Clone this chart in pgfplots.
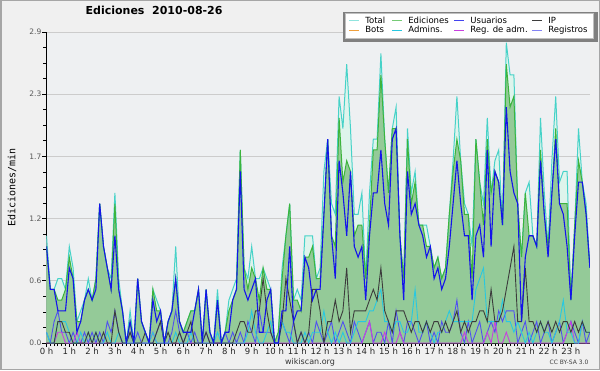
\documentclass[border=0pt]{standalone}
\usepackage{pgfplots}
\pgfplotsset{compat=1.18}
\usepackage{pgfplotstable}
\usepackage{fontspec}
\setmainfont{DejaVu Sans}
\newfontfamily\monofont{DejaVu Sans Mono}
\definecolor{totc}{RGB}{70,210,200}
\definecolor{totfill}{RGB}{222,244,236}
\definecolor{edc}{RGB}{60,180,60}
\definecolor{edfill}{RGB}{148,202,152}
\definecolor{usc}{RGB}{20,20,235}
\definecolor{ipc}{RGB}{60,60,60}
\definecolor{botc}{RGB}{240,160,60}
\definecolor{admc}{RGB}{40,200,225}
\definecolor{regadmc}{RGB}{200,64,224}
\definecolor{regc}{RGB}{80,80,240}
\definecolor{plotbg}{RGB}{238,240,242}
\definecolor{outerbg}{RGB}{240,240,240}

\pgfplotstableread{
i T E U I A R M
0 1.0 0.9 0.9 0 0.1 0.1 0
1 0.5 0.5 0.5 0 0 0 0
2 0.5 0.5 0.5 0 0 0.2 0
3 0.6 0.4 0.3 0.2 0.2 0.3 0.1
4 0.6 0.4 0.3 0.2 0.2 0.1 0.1
5 0.5 0.5 0.3 0.1 0.2 0.1 0
6 0.9 0.8 0.7 0.1 0.1 0 0
7 0.7 0.6 0.6 0 0 0.1 0
8 0.2 0.2 0.1 0 0 0 0.1
9 0.3 0.2 0.2 0 0.1 0 0
10 0.4 0.4 0.4 0 0 0.1 0
11 0.6 0.5 0.5 0.1 0.1 0 0
12 0.4 0.4 0.4 0 0 0.1 0
13 0.6 0.6 0.5 0.1 0.1 0 0
14 1.3 1.3 1.3 0 0 0.1 0
15 0.9 0.9 0.9 0.1 0 0 0
16 0.7 0.7 0.7 0 0.1 0.2 0
17 0.6 0.5 0.5 0 0 0.1 0
18 1.4 1.3 1.0 0.3 0 0.3 0
19 0.6 0.5 0.5 0.1 0.1 0.1 0
20 0.3 0.3 0.3 0 0 0 0
21 0.0 0.0 0.0 0 0 0 0
22 0.3 0.2 0.2 0.1 0 0.1 0
23 0.0 0.0 0.0 0 0 0 0
24 0.6 0.6 0.6 0 0 0.1 0
25 0.2 0.2 0.2 0 0 0 0
26 0.1 0.1 0.1 0.1 0 0 0
27 0.0 0.0 0.0 0 0 0 0
28 0.5 0.5 0.4 0 0.1 0 0.1
29 0.4 0.3 0.2 0.1 0 0.1 0
30 0.3 0.3 0.3 0.2 0 0.2 0
31 0.0 0.0 0.0 0 0 0 0
32 0.2 0.2 0.2 0.1 0 0 0
33 0.3 0.3 0.3 0 0 0.1 0
34 0.9 0.6 0.6 0 0.1 0.3 0
35 0.2 0.2 0.2 0.1 0 0.1 0
36 0.1 0.1 0.1 0 0 0 0
37 0.2 0.2 0.1 0.1 0 0.1 0
38 0.3 0.3 0.1 0.2 0.1 0 0
39 0.3 0.3 0.3 0 0 0.1 0
40 0.5 0.5 0.5 0 0 0 0
41 0.0 0.0 0.0 0 0 0 0
42 0.5 0.5 0.5 0.1 0 0.1 0
43 0.1 0.1 0.1 0 0 0 0
44 0.0 0.0 0.0 0 0 0 0
45 0.5 0.4 0.4 0 0.1 0 0
46 0.0 0.0 0.0 0 0 0 0
47 0.1 0.1 0.1 0 0 0.1 0
48 0.4 0.3 0.1 0 0 0 0
49 0.5 0.4 0.4 0 0 0.1 0
50 0.6 0.5 0.5 0.1 0 0 0
51 1.8 1.8 1.6 0.2 0 0.1 0
52 0.7 0.7 0.5 0.2 0 0 0
53 0.6 0.5 0.4 0.1 0.1 0.2 0
54 0.9 0.7 0.5 0.1 0.3 0.1 0
55 0.6 0.6 0.6 0.3 0.1 0 0
56 0.6 0.4 0.1 0.3 0 0.3 0
57 0.7 0.7 0.1 0.6 0 0.1 0
58 0.6 0.5 0.4 0.3 0.1 0.1 0
59 0.5 0.5 0.5 0.1 0.2 0.1 0
60 0.0 0.0 0.0 0 0 0 0
61 0.1 0.1 0.0 0 0 0 0
62 0.7 0.6 0.3 0.2 0.2 0.2 0
63 1.0 1.0 0.3 0.6 0.1 0.1 0
64 1.3 1.3 0.9 0.4 0.1 0 0
65 0.4 0.4 0.2 0.2 0 0.2 0
66 0.5 0.4 0.3 0 0 0 0
67 0.4 0.3 0.3 0.1 0 0.1 0
68 1.0 0.8 0.8 0 0.1 0 0
69 1.0 0.8 0.7 0.1 0 0.1 0
70 1.0 0.9 0.4 0.5 0.1 0 0
71 0.6 0.6 0.5 0.5 0.1 0.2 0
72 0.7 0.6 0.5 0.3 0.1 0.1 0
73 1.6 1.2 1.2 0 0.3 0 0
74 1.9 1.9 1.9 0.2 0.1 0.1 0
75 1.3 1.0 1.0 0.2 0 0.2 0
76 1.2 0.9 0.6 0.4 0.1 0 0
77 2.3 2.1 1.7 0.2 0 0.1 0
78 2.0 1.5 1.4 0.3 0.1 0.2 0
79 2.6 1.7 1.0 0.7 0 0.1 0
80 2.0 1.6 1.6 0.1 0 0 0
81 1.2 1.0 0.9 0.3 0.1 0.2 0
82 1.2 1.1 0.8 0.3 0.2 0.1 0
83 1.4 1.1 0.9 0.3 0.2 0 0
84 0.6 0.6 0.4 0.3 0.2 0.1 0.1
85 1.4 1.1 1.0 0.4 0.3 0.2 0.2
86 1.9 1.8 1.4 0.5 0.3 0 0
87 1.9 1.8 1.4 0.4 0.4 0.1 0
88 2.7 2.5 1.8 0.7 0.5 0.1 0
89 1.9 1.9 1.3 0.3 0.2 0 0.1
90 1.4 1.4 1.1 0.2 0.2 0.2 0
91 2.0 2.0 1.9 0.1 0.1 0 0
92 2.2 2.0 2.0 0.3 0.2 0.3 0
93 1.0 1.0 1.0 0.3 0.2 0.1 0.1
94 0.6 0.6 0.4 0.3 0.1 0 0
95 2.0 1.9 1.6 0.2 0.1 0.2 0
96 1.4 1.3 1.2 0.1 0.2 0.2 0
97 1.6 1.5 1.3 0.2 0.5 0.1 0
98 1.1 1.1 1.1 0.2 0.1 0 0
99 1.1 1.1 1.0 0.1 0.1 0.1 0
100 1.1 0.9 0.8 0.2 0.2 0.2 0
101 0.9 0.9 0.9 0.1 0.1 0 0
102 0.7 0.7 0.6 0.2 0 0.1 0
103 0.8 0.8 0.7 0.2 0.1 0 0
104 0.6 0.6 0.5 0.1 0.1 0.2 0
105 0.7 0.7 0.6 0.2 0.2 0.1 0
106 1.2 1.2 0.9 0.1 0.3 0.1 0
107 1.7 1.6 1.3 0.2 0.2 0.2 0
108 2.3 1.9 1.7 0.3 0.2 0.4 0
109 1.7 1.7 1.3 0.1 0.2 0.1 0
110 1.3 1.2 1.0 0.2 0.2 0 0.1
111 1.2 1.2 1.0 0.1 0.2 0.2 0
112 0.9 0.6 0.4 0.2 0.2 0 0
113 1.9 1.9 1.0 0.2 0.5 0.1 0
114 1.5 1.5 1.1 0.3 0.6 0.2 0
115 1.3 1.1 0.8 0.3 0.7 0 0
116 2.1 1.9 1.8 0.2 0.2 0.1 0.1
117 1.4 1.4 0.9 0.5 0.2 0.2 0
118 1.7 1.6 1.6 0.2 0.2 0.1 0.2
119 1.8 1.5 1.5 0.2 0.2 0.3 0
120 1.1 1.1 1.1 0.3 0.4 0.2 0
121 2.8 2.6 2.2 0.5 0.2 0.3 0.1
122 2.5 2.2 1.6 0.7 0.2 0.3 0
123 2.5 2.3 1.4 0.9 0.1 0.3 0
124 1.3 1.3 1.3 0.2 0.2 0 0
125 0.8 0.8 0.2 0.2 0.1 0.1 0
126 1.4 1.4 0.8 0.7 0 0.2 0
127 1.5 1.0 1.0 0.2 0.1 0 0
128 1.0 1.0 1.0 0.2 0 0.1 0
129 0.9 0.9 0.9 0.1 0.1 0.2 0
130 2.1 1.8 1.7 0.2 0.2 0 0
131 1.4 1.2 1.2 0.1 0.1 0.1 0
132 0.9 0.9 0.8 0.2 0.1 0.2 0
133 1.7 1.4 1.4 0.1 0 0 0
134 2.3 2.0 1.9 0.2 0.1 0.1 0
135 1.5 1.3 1.3 0.1 0.2 0.2 0
136 1.6 1.3 1.2 0.2 0.4 0 0
137 1.6 1.3 0.9 0.2 0.1 0.1 0.1
138 0.4 0.4 0.4 0.1 0.1 0.2 0.2
139 1.1 1.1 1.0 0.2 0 0.1 0
140 2.0 1.7 1.5 0.1 0 0 0
141 1.5 1.5 1.5 0.2 0.2 0.2 0
142 1.3 1.2 1.2 0.1 0.1 0 0
143 0.7 0.7 0.7 0.1 0.1 0.1 0
}\data

\begin{document}
\begin{tikzpicture}
\path[use as bounding box] (0,0) rectangle (600pt,370pt);
\fill[outerbg] (0,0) rectangle (600pt,370pt);
\draw[black!35, line width=1.5pt] (0.75pt,0.75pt) rectangle (599.25pt,369.25pt);
\begin{axis}[
  at={(46.5pt,27pt)}, anchor=south west, scale only axis,
  width=543.4pt, height=311pt,
  xmin=0, xmax=143, ymin=0, ymax=2.9,
  axis x line*=bottom, axis y line*=left,
  axis line style={black, line width=1.2pt},
  axis background/.style={fill=plotbg},
  clip mode=individual,
  xtick={0,6,...,138},
  xticklabels={0 h,1 h,2 h,3 h,4 h,5 h,6 h,7 h,8 h,9 h,10 h,11 h,12 h,13 h,14 h,15 h,16 h,17 h,18 h,19 h,20 h,21 h,22 h,23 h},
  minor x tick num=5,
  ytick={0,0.58,1.16,1.74,2.32,2.9},
  yticklabels={0.0,0.6,1.2,1.7,2.3,2.9},
  minor y tick num=3,
  tick align=outside, major tick length=4pt, minor tick length=3pt,
  tick style={black, line width=0.8pt},
  ymajorgrids, grid style={draw=black!20, line width=0.8pt},
  xticklabel style={font=\fontsize{8.5}{9}\selectfont, text=black!85, inner sep=1pt},
  yticklabel style={font=\fontsize{7.5}{8}\selectfont, text=black!65, inner sep=1pt},
  title={Ediciones\ \ 2010-08-26},
  title style={at={(0.198,1.051)}, anchor=center, font=\bfseries\fontsize{11}{13}\selectfont},
  ylabel={Ediciones/min},
  ylabel style={at={(axis description cs:-0.0635,0.5)}, anchor=center, font=\monofont\fontsize{10}{12}\selectfont},
  legend columns=4,
  legend image code/.code={\fill[#1, draw=none] (0pt,-0.45pt) rectangle (10pt,0.45pt);},
  legend style={at={(1.006,1.062)}, anchor=north east, draw=black!25, fill=white, line width=0.6pt,
    font=\fontsize{8.5}{9}\selectfont, inner xsep=4pt, inner ysep=3pt,
    nodes={inner sep=0.5pt, text height=6.5pt, text depth=2pt, anchor=west},
    /tikz/every odd column/.append style={column sep=6pt}},
  legend cell align=left,
]
\addlegendimage{fill=totc!60}
\addlegendentry{\makebox[26pt][l]{Total}}
\addlegendimage{fill=edc!70}
\addlegendentry{\makebox[45pt][l]{Ediciones}}
\addlegendimage{fill=usc!80}
\addlegendentry{\makebox[61pt][l]{Usuarios}}
\addlegendimage{fill=ipc}
\addlegendentry{\makebox[40pt][l]{IP}}
\addlegendimage{fill=botc}
\addlegendentry{\makebox[26pt][l]{Bots}}
\addlegendimage{fill=admc}
\addlegendentry{\makebox[45pt][l]{Admins.}}
\addlegendimage{fill=regadmc}
\addlegendentry{\makebox[61pt][l]{Reg. de adm.}}
\addlegendimage{fill=regc!70}
\addlegendentry{\makebox[40pt][l]{Registros}}

\addplot[draw=none, fill=totfill, forget plot] table[x=i, y=T] {\data} \closedcycle;
\addplot[draw=none, fill=edfill, forget plot] table[x=i, y=E] {\data} \closedcycle;
\addplot[regc, line width=0.9pt, sharp plot, forget plot] table[x=i, y=R] {\data};
\addplot[regadmc, line width=0.9pt, sharp plot, forget plot] table[x=i, y=M] {\data};
\addplot[admc, line width=0.9pt, sharp plot, forget plot] table[x=i, y=A] {\data};
\addplot[ipc, line width=0.9pt, sharp plot, forget plot] table[x=i, y=I] {\data};
\addplot[totc, line width=1pt, sharp plot, forget plot] table[x=i, y=T] {\data};
\addplot[edc, line width=1pt, sharp plot, forget plot] table[x=i, y=E] {\data};
\addplot[usc, line width=1.1pt, sharp plot, forget plot] table[x=i, y=U] {\data};
\fill[black!50] (rel axis cs:0.5451,0.9688) rectangle (rel axis cs:1.0144,1.0653);
\end{axis}
\node[font=\fontsize{8}{9}\selectfont, text=black!80] at (310pt,8pt) {wikiscan.org};
\node[font=\fontsize{6}{7}\selectfont, text=black!75] at (569pt,7.5pt) {CC BY-SA 3.0};
\end{tikzpicture}
\end{document}
